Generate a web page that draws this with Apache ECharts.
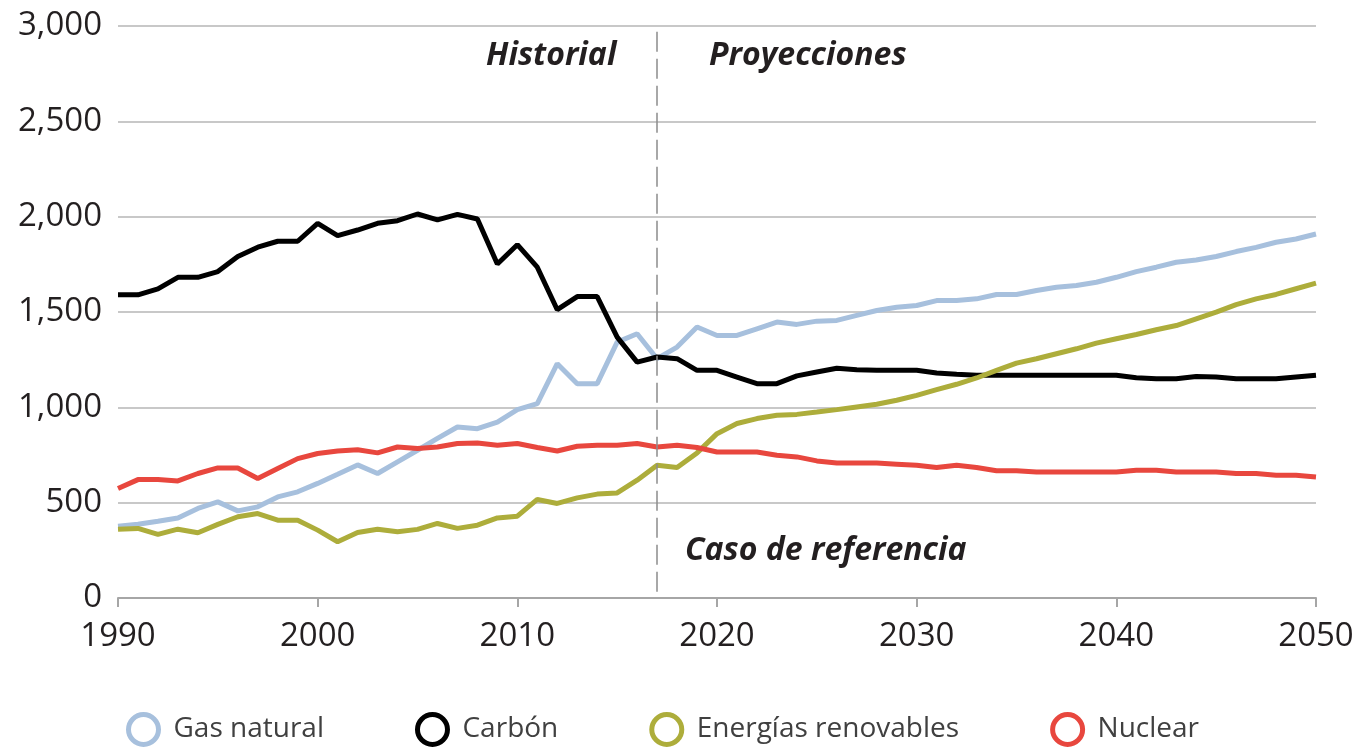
<!DOCTYPE html>
<html>
<head>
<meta charset="utf-8">
<script src="https://cdn.jsdelivr.net/npm/echarts@6/dist/echarts.min.js"></script>
<style>
  html, body { margin: 0; padding: 0; background: #fff; }
  #chart { width: 1362px; height: 747px; }
</style>
</head>
<body>
<div id="chart"></div>
<script>
// años 1990 - 2050
var years = [];
for (var y = 1990; y <= 2050; y++) years.push(y);

var seriesNames = ['Gas natural', 'Carbón', 'Energías renovables', 'Nuclear'];
var seriesColors = ['#a7c0dd', '#000000', '#adad3b', '#e8473e'];

var gasNatural = [377, 387, 403, 420, 470, 504, 457, 478, 530, 557,
  601, 649, 698, 653, 714, 775, 837, 897, 888, 923,
  988, 1019, 1229, 1124, 1124, 1342, 1386, 1255, 1316, 1421,
  1377, 1377, 1412, 1447, 1435, 1452, 1456, 1482, 1508, 1525,
  1534, 1560, 1560, 1569, 1592, 1592, 1613, 1630, 1639, 1656,
  1682, 1712, 1735, 1761, 1773, 1791, 1817, 1839, 1866, 1883,
  1909];

var carbon = [1590, 1590, 1621, 1682, 1682, 1712, 1791, 1840, 1871, 1871,
  1965, 1901, 1930, 1965, 1979, 2014, 1983, 2012, 1988, 1752,
  1853, 1735, 1512, 1581, 1581, 1368, 1237, 1264, 1255, 1194,
  1194, 1159, 1124, 1124, 1165, 1185, 1205, 1197, 1194, 1194,
  1194, 1180, 1173, 1168, 1168, 1168, 1168, 1168, 1168, 1168,
  1168, 1155, 1150, 1150, 1162, 1159, 1150, 1150, 1150, 1159,
  1168];

var renovables = [360, 365, 334, 361, 342, 386, 426, 443, 408, 408,
  356, 295, 344, 361, 347, 360, 391, 365, 382, 420,
  429, 517, 496, 525, 545, 551, 618, 696, 684, 761,
  862, 915, 941, 958, 963, 975, 988, 1002, 1016, 1037,
  1063, 1093, 1121, 1154, 1194, 1232, 1255, 1281, 1307, 1337,
  1360, 1382, 1407, 1429, 1464, 1499, 1539, 1569, 1592, 1622,
  1651];

var nuclear = [574, 621, 621, 614, 653, 682, 682, 627, 679, 731,
  758, 771, 778, 761, 792, 784, 792, 810, 813, 801,
  810, 789, 771, 796, 801, 801, 810, 792, 801, 789,
  766, 766, 766, 749, 740, 719, 708, 708, 708, 702,
  696, 684, 696, 684, 667, 667, 661, 661, 661, 661,
  661, 670, 670, 661, 661, 661, 653, 653, 644, 644,
  635];

var splitYear = 2017; // historial / proyecciones

var allValues = [gasNatural, carbon, renovables, nuclear];

function pairs(vals) {
  return years.map(function (yr, i) { return [yr, vals[i]]; });
}

var textColor = '#231f20';
var font = '"Open Sans", "Noto Sans", sans-serif';
var noteFont = 'italic bold 32px "Open Sans", sans-serif';

var series = seriesNames.map(function (name, i) {
  return {
    name: name,
    type: 'line',
    data: pairs(allValues[i]),
    symbol: 'none',
    lineStyle: { color: seriesColors[i], width: 5 },
    itemStyle: { color: seriesColors[i] },
    z: 3
  };
});

// línea discontinua que separa historial y proyecciones
series[0].markLine = {
  silent: true,
  symbol: 'none',
  label: { show: false },
  lineStyle: { color: '#8c8c8c', width: 1.5, type: [20, 7] },
  data: [[{ coord: [splitYear, 2970] }, { coord: [splitYear, 0] }]]
};

var myChart = echarts.init(document.getElementById('chart'));

var option = {
  animation: false,
  backgroundColor: '#ffffff',
  grid: { left: 118, right: 46, top: 26, bottom: 149, containLabel: false },
  xAxis: {
    type: 'value',
    min: 1990,
    max: 2050,
    interval: 10,
    axisLine: { show: true, lineStyle: { color: '#a6a6a6', width: 2 } },
    axisTick: { show: true, length: 9, lineStyle: { color: '#a6a6a6', width: 2 } },
    splitLine: { show: false },
    axisLabel: {
      color: textColor, fontSize: 33, fontFamily: font, margin: 22,
      formatter: function (v) { return String(v); }
    }
  },
  yAxis: {
    type: 'value',
    min: 0,
    max: 3000,
    interval: 500,
    axisLine: { show: false },
    axisTick: { show: false },
    splitLine: { show: true, lineStyle: { color: '#c8c8c8', width: 2 } },
    axisLabel: {
      color: textColor, fontSize: 33, fontFamily: font, margin: 16,
      formatter: function (v) { return v.toLocaleString('en-US'); }
    }
  },
  legend: {
    top: 707,
    left: 121,
    itemGap: 91,
    itemWidth: 30,
    itemHeight: 30,
    icon: 'circle',
    textStyle: { color: '#404040', fontSize: 28, fontFamily: font, padding: [0, 0, 0, 10] },
    data: seriesNames.map(function (n, i) {
      return {
        name: n,
        itemStyle: { color: '#ffffff', borderColor: seriesColors[i], borderWidth: 5 }
      };
    })
  },
  graphic: [
    { type: 'text', left: 486, top: 40, style: { text: 'Historial', font: noteFont, fill: textColor } },
    { type: 'text', left: 709, top: 40, style: { text: 'Proyecciones', font: noteFont, fill: textColor } },
    { type: 'text', left: 685, top: 535, style: { text: 'Caso de referencia', font: noteFont, fill: textColor } }
  ],
  series: series
};

myChart.setOption(option);
</script>
</body>
</html>
